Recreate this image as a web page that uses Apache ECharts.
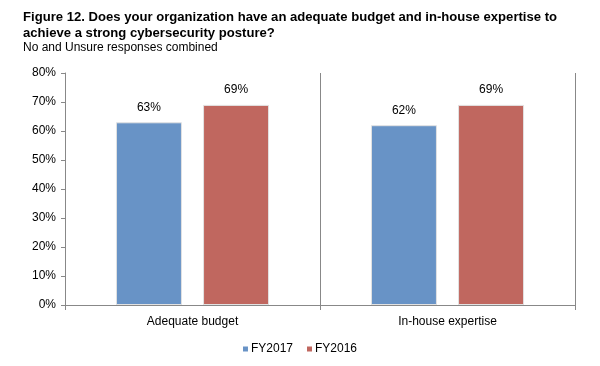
<!DOCTYPE html>
<html>
<head>
<meta charset="utf-8">
<script src="https://cdn.jsdelivr.net/npm/echarts@6/dist/echarts.min.js"></script>
<style>
html,body{margin:0;padding:0;background:#fff;}
#chart{width:600px;height:366px;}
</style>
</head>
<body>
<div id="chart"></div>
<script>
var categories = ['Adequate budget', 'In-house expertise'];
var fy2017 = [63, 62];
var fy2016 = [69, 69];
var yTicks = [0, 10, 20, 30, 40, 50, 60, 70, 80];
var titleLines = ['Figure 12. Does your organization have an adequate budget and in-house expertise to', 'achieve a strong cybersecurity posture?'];
var subtitle = 'No and Unsure responses combined';

var chart = echarts.init(document.getElementById('chart'));
var font = 'Liberation Sans, Arial, sans-serif';
chart.setOption({
  animation: false,
  backgroundColor: '#fff',
  title: [
    {text: titleLines[0], left: 23, top: 11, padding: 0,
     textStyle: {fontFamily: font, fontSize: 13.1, fontWeight: 'bold', color: '#000', lineHeight: 13}},
    {text: titleLines[1], left: 23, top: 27, padding: 0,
     textStyle: {fontFamily: font, fontSize: 13.1, fontWeight: 'bold', color: '#000', lineHeight: 13}},
    {text: subtitle, left: 23, top: 42, padding: 0,
     textStyle: {fontFamily: font, fontSize: 12, fontWeight: 'normal', color: '#000', lineHeight: 12}}
  ],
  legend: {
    data: ['FY2017', 'FY2016'],
    bottom: 6,
    left: 'center',
    itemWidth: 5, itemHeight: 5, itemGap: 14,
    icon: 'rect',
    itemStyle: {borderWidth: 0},
    textStyle: {fontFamily: font, fontSize: 12, color: '#000', padding: [0, 0, 0, -2]}
  },
  grid: {left: 65, right: 25, top: 73, bottom: 61, containLabel: false},
  xAxis: {
    type: 'category',
    data: categories,
    axisLine: {lineStyle: {color: '#888', width: 1}},
    axisTick: {show: true, length: 5, lineStyle: {color: '#888'}},
    splitLine: {show: true, lineStyle: {color: '#888', width: 1}},
    axisLabel: {fontFamily: font, fontSize: 12, color: '#000', margin: 11}
  },
  yAxis: {
    type: 'value',
    min: yTicks[0], max: yTicks[yTicks.length - 1], interval: 10,
    axisLine: {show: true, lineStyle: {color: '#888'}},
    axisTick: {show: true, length: 4, lineStyle: {color: '#888'}},
    splitLine: {show: false},
    axisLabel: {fontFamily: font, fontSize: 12, color: '#000', margin: 9, formatter: '{value}%'}
  },
  series: [
    {
      name: 'FY2017', type: 'bar', data: fy2017,
      barWidth: 66, barGap: '32%',
      itemStyle: {color: '#6893C6', borderColor: '#e2e2e2', borderWidth: 1},
      label: {show: true, position: 'top', distance: 9, formatter: '{c}%', fontFamily: font, fontSize: 12, color: '#000'}
    },
    {
      name: 'FY2016', type: 'bar', data: fy2016,
      barWidth: 66,
      itemStyle: {color: '#C0675F', borderColor: '#e2e2e2', borderWidth: 1},
      label: {show: true, position: 'top', distance: 9, formatter: '{c}%', fontFamily: font, fontSize: 12, color: '#000'}
    }
  ]
});
</script>
</body>
</html>
